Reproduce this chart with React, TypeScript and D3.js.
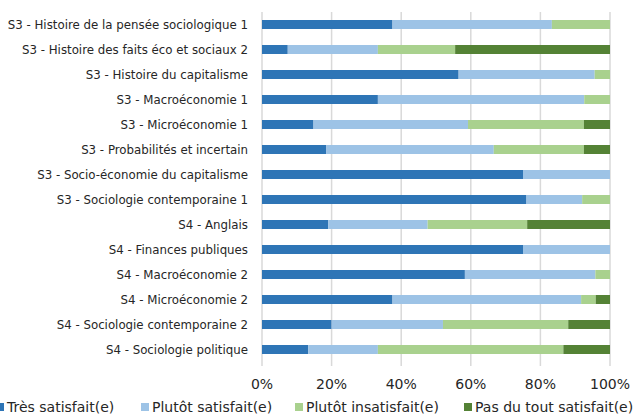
import { useEffect, useRef } from 'react'
import * as d3 from 'd3'

const categories = [
  'S3 - Histoire de la pensée sociologique 1',
  'S3 - Histoire des faits éco et sociaux 2',
  'S3 - Histoire du capitalisme',
  'S3 - Macroéconomie 1',
  'S3 - Microéconomie 1',
  'S3 - Probabilités et incertain',
  'S3 - Socio-économie du capitalisme',
  'S3 - Sociologie contemporaine 1',
  'S4 - Anglais',
  'S4 - Finances publiques',
  'S4 - Macroéconomie 2',
  'S4 - Microéconomie 2',
  'S4 - Sociologie contemporaine 2',
  'S4 - Sociologie politique',
]

const seriesNames = [
  'Très satisfait(e)',
  'Plutôt satisfait(e)',
  'Plutôt insatisfait(e)',
  'Pas du tout satisfait(e)',
]

const tresSatisfait = [37.5, 7.4, 56.5, 33.3, 14.8, 18.5, 75, 76, 19.0, 75, 58.3, 37.5, 20, 13.3]
const plutotSatisfait = [45.8, 25.9, 39.1, 59.3, 44.4, 48.1, 25, 16, 28.6, 25, 37.5, 54.2, 32, 20]
const plutotInsatisfait = [16.7, 22.2, 4.4, 7.4, 33.3, 25.9, 0, 8, 28.6, 0, 4.2, 4.2, 36, 53.3]
const pasDuTout = [0, 44.5, 0, 0, 7.5, 7.5, 0, 0, 23.8, 0, 0, 4.1, 12, 13.4]

const colors = ['#2e75b6', '#9dc3e6', '#a9d18e', '#548235']
const ticks = [0, 20, 40, 60, 80, 100]

const font = 'DejaVu Sans, sans-serif'

export default function App() {
  const svgRef = useRef<SVGSVGElement>(null)

  useEffect(() => {
    if (!svgRef.current) return
    const width = 638
    const height = 418
    const svg = d3.select(svgRef.current)
    svg.selectAll('*').remove()
    svg.attr('width', width).attr('height', height)

    const rows = categories.map((c, i) => ({
      cat: c,
      [seriesNames[0]]: tresSatisfait[i],
      [seriesNames[1]]: plutotSatisfait[i],
      [seriesNames[2]]: plutotInsatisfait[i],
      [seriesNames[3]]: pasDuTout[i],
    }))

    const stacked = d3
      .stack<any>()
      .keys(seriesNames)
      .offset(d3.stackOffsetExpand)(rows)

    const x = d3.scaleLinear().domain([0, 1]).range([262, 610])
    const y = d3
      .scaleBand<string>()
      .domain(categories)
      .range([12, 362])
      .paddingInner(0.64)
      .paddingOuter(0.32)
    const color = d3.scaleOrdinal<string>().domain(seriesNames).range(colors)

    // gridlines
    svg
      .append('g')
      .selectAll('line')
      .data(ticks)
      .enter()
      .append('line')
      .attr('x1', (d) => x(d / 100))
      .attr('x2', (d) => x(d / 100))
      .attr('y1', 12)
      .attr('y2', 366)
      .attr('stroke', '#d9d9d9')
      .attr('stroke-width', 1.5)

    // bars
    svg
      .append('g')
      .selectAll('g')
      .data(stacked)
      .enter()
      .append('g')
      .attr('fill', (d) => color(d.key))
      .selectAll('rect')
      .data((d) => d)
      .enter()
      .append('rect')
      .attr('x', (d) => x(d[0]))
      .attr('width', (d) => Math.max(0, x(d[1]) - x(d[0])))
      .attr('y', (d) => y(d.data.cat) as number)
      .attr('height', y.bandwidth())

    // category labels
    svg
      .append('g')
      .selectAll('text')
      .data(categories)
      .enter()
      .append('text')
      .attr('x', 248)
      .attr('y', (d) => (y(d) as number) + y.bandwidth() / 2)
      .attr('dy', '0.35em')
      .attr('text-anchor', 'end')
      .attr('font-family', font)
      .attr('font-size', 11.8)
      .attr('fill', '#262626')
      .text((d) => d)

    // x tick labels
    svg
      .append('g')
      .selectAll('text')
      .data(ticks)
      .enter()
      .append('text')
      .attr('x', (d) => x(d / 100))
      .attr('y', 389)
      .attr('text-anchor', 'middle')
      .attr('font-family', font)
      .attr('font-size', 14)
      .attr('fill', '#262626')
      .text((d) => `${d}%`)

    // legend
    const legendX = [-4, 141, 295, 464]
    const legend = svg
      .append('g')
      .selectAll('g')
      .data(seriesNames)
      .enter()
      .append('g')
      .attr('transform', (_, i) => `translate(${legendX[i]},407)`)
    legend
      .append('rect')
      .attr('x', 0)
      .attr('y', -4)
      .attr('width', 8)
      .attr('height', 8)
      .attr('fill', (d) => color(d))
    legend
      .append('text')
      .attr('x', 11)
      .attr('y', 0)
      .attr('dy', '0.35em')
      .attr('font-family', font)
      .attr('font-size', 14)
      .attr('fill', '#262626')
      .text((d) => d)
  }, [])

  return (
    <svg
      ref={svgRef}
      style={{ position: 'absolute', left: 0, top: 0, background: '#fff' }}
    />
  )
}
